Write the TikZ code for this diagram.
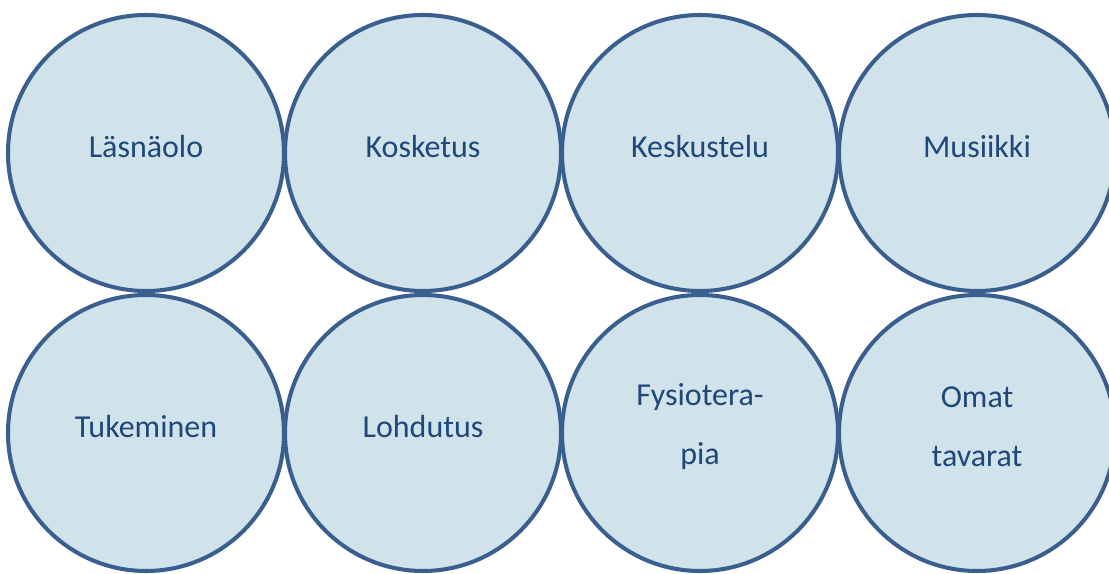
\documentclass[tikz,border=0pt]{standalone}
\usepackage{tikz}
\usepackage{xcolor}
\usepackage{fontspec}
\setmainfont{Carlito}
\definecolor{ringblue}{HTML}{3A5F8E}
\definecolor{fillblue}{HTML}{D0E2EA}
\definecolor{textblue}{HTML}{1F477A}
\tikzset{
  ball/.style={circle, draw=ringblue, fill=fillblue, line width=2.3pt,
    minimum size=5.52cm, inner sep=0pt},
  word/.style={text=textblue, align=center, inner sep=0pt,
    font=\fontsize{18.2}{33.5}\selectfont}
}

\begin{document}
\begin{tikzpicture}
				\useasboundingbox (0,0) rectangle (22.18,11.46);
				\clip (0,0) rectangle (22.18,11.46);
				
				% top row
				\node[ball] (c1) at (2.92,8.40) {};
				\node[ball] (c2) at (8.46,8.40) {};
				\node[ball] (c3) at (14.0,8.40) {};
				\node[ball] (c4) at (19.54,8.40) {};
				% bottom row
				\node[ball] (c5) at (2.92,2.80) {};
				\node[ball] (c6) at (8.46,2.80) {};
				\node[ball] (c7) at (14.0,2.80) {};
				\node[ball] (c8) at (19.54,2.80) {};
				
				% texts
				\node[word] (t1) at ([yshift=1.2mm]c1) {Läsnäolo};
				\node[word] (t2) at ([yshift=1.2mm]c2) {Kosketus};
				\node[word] (t3) at ([yshift=1.2mm]c3) {Keskustelu};
				\node[word] (t4) at ([yshift=1.2mm]c4) {Musiikki};
				\node[word] (t5) at ([yshift=1.2mm]c5) {Tukeminen};
				\node[word] (t6) at ([yshift=1.2mm]c6) {Lohdutus};
				\node[word] (t7) at ([yshift=1.2mm]c7) {Fysiotera-\\pia};
				\node[word] (t8) at ([yshift=1.2mm]c8) {Omat\\tavarat};
			\end{tikzpicture}
\end{document}
